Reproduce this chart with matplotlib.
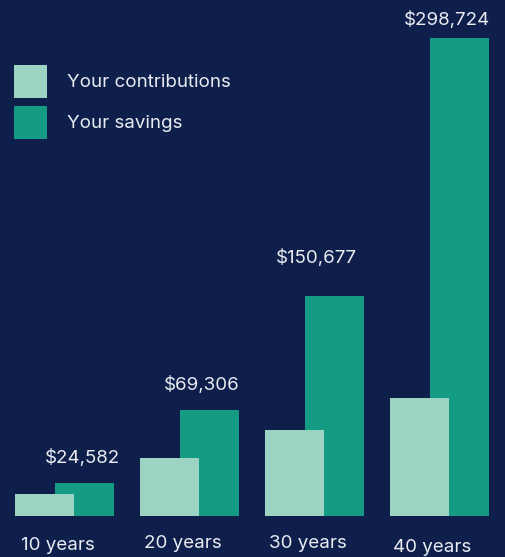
import matplotlib
matplotlib.use("Agg")
import matplotlib.pyplot as plt
import numpy as np

categories = ["10 years", "20 years", "30 years", "40 years"]
contributions = [13750, 36250, 53750, 73750]
savings = [20600, 66300, 137500, 298724]
savings_labels = ["$24,582", "$69,306", "$150,677", "$298,724"]
series_names = ["Your contributions", "Your savings"]

BG = "#0e1f4b"
C_CONTRIB = "#9dd3c3"
C_SAV = "#139b84"
TXT = "#e9ebf1"
FONT = ["Inter", "DejaVu Sans"]
FS = 13.5

plt.rcParams["font.family"] = FONT

fig = plt.figure(figsize=(5.05, 5.57), dpi=100, facecolor=BG)
ax = fig.add_axes([0, 41/557, 1, 516/557])
ax.set_facecolor(BG)

x = np.arange(len(categories))
w = 0.472
off = 0.16
bs = ax.bar(x + off, savings, width=w, color=C_SAV, label=series_names[1], zorder=2)
bc = ax.bar(x - off, contributions, width=w, color=C_CONTRIB, label=series_names[0], zorder=3)

ax.set_xlim(-0.516, 3.524)
ax.set_ylim(0, 322500)
ax.axis("off")

label_offsets = [(6, 16), (1, 16), (-7, 29), (1, 9)]
for i, (rect, lab) in enumerate(zip(bs, savings_labels)):
    ax.annotate(lab, (rect.get_x() + rect.get_width(), rect.get_height()),
                xytext=label_offsets[i], textcoords="offset pixels",
                ha="right", va="bottom", color=TXT, fontsize=FS)

cat_offsets = [-29, -28, -28, -32]
for i, c in enumerate(categories):
    ax.annotate(c, (x[i], 0), xytext=(-7, cat_offsets[i]), textcoords="offset pixels",
                ha="center", va="center", color=TXT, fontsize=FS)

leg = fig.legend(handles=[bc, bs], labels=series_names, loc="upper left",
                 bbox_to_anchor=(14/505, 1 - 65/557), bbox_transform=fig.transFigure,
                 frameon=False, borderpad=0, borderaxespad=0, fontsize=FS,
                 handlelength=1.76, handleheight=2.33, handletextpad=1.07,
                 labelspacing=0.43)
for t in leg.get_texts():
    t.set_color(TXT)

fig.savefig("out.png", dpi=100, facecolor=BG)
